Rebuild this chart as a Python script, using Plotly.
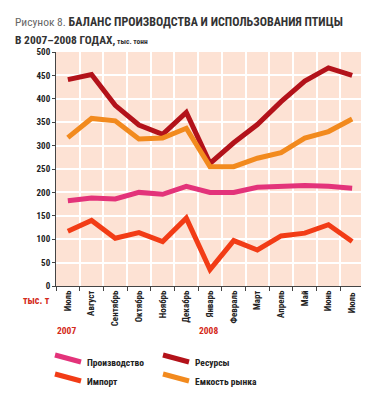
import plotly.graph_objects as go

months = ["Июль", "Август", "Сентябрь", "Октябрь", "Ноябрь", "Декабрь", "Январь",
          "Февраль", "Март", "Апрель", "Май", "Июнь", "Июль "]
production = [182, 188, 186, 200, 196, 213, 200, 200, 211, 214, 215, 213, 209]
resources = [441, 452, 386, 344, 324, 371, 262, 306, 345, 394, 438, 466, 450]
imports = [117, 140, 102, 114, 95, 145, 35, 97, 77, 107, 113, 131, 95]
capacity = [317, 358, 353, 314, 316, 337, 255, 255, 273, 285, 316, 330, 357]
y_ticks = [0, 50, 100, 150, 200, 250, 300, 350, 400, 450, 500]

W, H = 369, 404
L, R, T, B = 48, 13, 44, 126
pw, ph = W - L - R, H - T - B

def px(x):
    return (x - L) / pw

def py(y):
    return (H - B - y) / ph

FONT = "Liberation Sans Narrow, Roboto Condensed, Arial Narrow, Liberation Sans, sans-serif"

series = [
    ("Ресурсы", resources, "#b3121a"),
    ("Емкость рынка", capacity, "#f28a1e"),
    ("Производство", production, "#e3337a"),
    ("Импорт", imports, "#f23c16"),
]

fig = go.Figure()
for name, vals, col in series:
    fig.add_trace(go.Scatter(x=months, y=vals, mode="lines", name=name,
                             line=dict(color=col, width=5), showlegend=False))

fig.update_layout(
    width=W, height=H,
    margin=dict(l=L, r=R, t=T, b=B),
    paper_bgcolor="white",
    plot_bgcolor="#fde2d4",
    font=dict(family=FONT, color="#333"),
    xaxis=dict(type="category", tickson="boundaries", ticks="outside", ticklen=4,
               tickcolor="#444", tickangle=-90, showgrid=True, gridcolor="white",
               gridwidth=2, showline=True, linecolor="#444", linewidth=1,
               tickfont=dict(size=9, family=FONT, color="#222", weight="bold"),
               range=[-0.5, 12.5], zeroline=False),
    yaxis=dict(range=[0, 500], tickvals=y_ticks, ticks="outside", ticklen=3,
               tickcolor="#444", showgrid=True, gridcolor="white", gridwidth=2,
               showline=True, linecolor="#444", linewidth=1, zeroline=False,
               tickfont=dict(size=9, family=FONT, color="#222", weight="bold")),
)

ann = []
ann.append(dict(x=px(5), y=py(5), xref="paper", yref="paper", xanchor="left", yanchor="top",
                showarrow=False, align="left",
                text="<span style='font-weight:normal;color:#666;font-size:11.5px'>Рисунок 8.</span> "
                     "<b>БАЛАНС ПРОИЗВОДСТВА И ИСПОЛЬЗОВАНИЯ ПТИЦЫ</b>",
                font=dict(size=12, family=FONT, color="#333")))
ann.append(dict(x=px(5), y=py(23), xref="paper", yref="paper", xanchor="left", yanchor="top",
                showarrow=False, align="left",
                text="<b>В 2007–2008 ГОДАХ,</b><span style='font-size:7.5px'> <b>тыс. тонн</b></span>",
                font=dict(size=11.5, family=FONT, color="#333")))
ann.append(dict(x=px(44), y=py(292), xref="paper", yref="paper", xanchor="right", yanchor="middle",
                showarrow=False, text="<b>тыс. т</b>",
                font=dict(size=10, family=FONT, color="#d42a1a")))
ann.append(dict(x=px(47), y=py(322), xref="paper", yref="paper", xanchor="left", yanchor="middle",
                showarrow=False, text="<b>2007</b>",
                font=dict(size=9.5, family=FONT, color="#d42a1a")))
ann.append(dict(x=px(189), y=py(322), xref="paper", yref="paper", xanchor="left", yanchor="middle",
                showarrow=False, text="<b>2008</b>",
                font=dict(size=9.5, family=FONT, color="#d42a1a")))

legend_items = [
    ("Производство", "#e3337a", 47, 354),
    ("Ресурсы", "#b3121a", 155, 354),
    ("Импорт", "#f23c16", 47, 373),
    ("Емкость рынка", "#f28a1e", 155, 373),
]
shapes = []
for name, col, lx, ly in legend_items:
    shapes.append(dict(type="line", xref="paper", yref="paper",
                       x0=px(lx), y0=py(ly - 7), x1=px(lx + 26), y1=py(ly),
                       line=dict(color=col, width=5)))
    ann.append(dict(x=px(lx + 30), y=py(ly), xref="paper", yref="paper",
                    xanchor="left", yanchor="middle", showarrow=False,
                    text="<b>" + name + "</b>",
                    font=dict(size=9.5, family=FONT, color="#222")))

fig.update_layout(annotations=ann, shapes=shapes)
fig.write_html("out.html")
